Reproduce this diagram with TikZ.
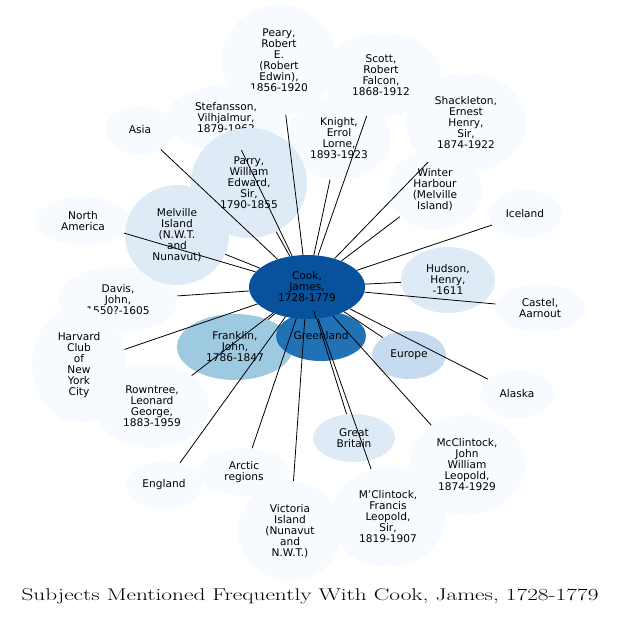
\documentclass[tikz,border=0pt]{standalone}
\usepackage{fontspec}
\setsansfont{DejaVu Sans}
\usetikzlibrary{shapes.geometric}
\definecolor{cA}{HTML}{08519C}
\definecolor{cB}{HTML}{2171B5}
\definecolor{cC}{HTML}{9ECAE1}
\definecolor{cD}{HTML}{C6DBEF}
\definecolor{cE}{HTML}{DEEBF7}
\definecolor{cF}{HTML}{F7FBFF}
\tikzset{
  bub/.style={ellipse,draw=none,inner sep=0pt},
  lbl/.style={align=center,inner sep=1pt,font=\sffamily\fontsize{10.6}{11}\selectfont}
}
\newcommand{\subj}[7]{% name, x, y, rx, ry, colour, text
  \node[bub,fill=#6,minimum width=#4*2pt,minimum height=#5*2pt] (#1) at (#2,#3) {};
  \node[lbl] (#1T) at (#1) {#7};}
\begin{document}
\begin{tikzpicture}[x=1pt,y=-1pt]
  \useasboundingbox (0,0) rectangle (621,618);
  \subj{peary}{279}{60}{57}{55}{cF}{Peary,\\Robert\\E.\\(Robert\\Edwin),\\1856-1920}
  \subj{scott}{381}{75}{60}{42}{cF}{Scott,\\Robert\\Falcon,\\1868-1912}
  \subj{shack}{466}{123}{60}{50}{cF}{Shackleton,\\Ernest\\Henry,\\Sir,\\1874-1922}
  \subj{knight}{339}{138}{52}{42}{cF}{Knight,\\Errol\\Lorne,\\1893-1923}
  \subj{stef}{226}{118}{60}{33}{cF}{Stefansson,\\Vilhjalmur,\\1879-1962}
  \subj{asia}{140}{130}{35}{24}{cF}{Asia}
  \subj{winter}{435}{190}{47}{40}{cF}{Winter\\Harbour\\(Melville\\Island)}
  \subj{iceland}{525}{214}{37}{24}{cF}{Iceland}
  \subj{namer}{83}{221}{47}{24}{cF}{North\\America}
  \subj{davis}{118}{300}{60}{33}{cF}{Davis,\\John,\\1550?-1605}
  \subj{castel}{540}{308}{45}{24}{cF}{Castel,\\Aarnout}
  \subj{harvard}{79}{365}{47}{58}{cF}{Harvard\\Club\\of\\New\\York\\City}
  \subj{rown}{152}{406}{57}{42}{cF}{Rowntree,\\Leonard\\George,\\1883-1959}
  \subj{alaska}{517}{394}{37}{24}{cF}{Alaska}
  \subj{mcl}{467}{465}{58}{50}{cF}{McClintock,\\John\\William\\Leopold,\\1874-1929}
  \subj{arctic}{244}{472}{45}{24}{cF}{Arctic\\regions}
  \subj{england}{164}{485}{38}{24}{cF}{England}
  \subj{victoria}{290}{531}{52}{50}{cF}{Victoria\\Island\\(Nunavut\\and\\N.W.T.)}
  \subj{mcf}{388}{517}{57}{50}{cF}{M'Clintock,\\Francis\\Leopold,\\Sir,\\1819-1907}
  \subj{parry}{249}{183}{58}{55}{cE}{Parry,\\William\\Edward,\\Sir,\\1790-1855}
  \subj{melville}{177}{235}{52}{50}{cE}{Melville\\Island\\(N.W.T.\\and\\Nunavut)}
  \subj{hudson}{448}{280}{47}{33}{cE}{Hudson,\\Henry,\\-1611}
  \subj{gbrit}{354}{438}{41}{24}{cE}{Great\\Britain}
  \subj{europe}{409}{355}{37}{24}{cD}{Europe}
  \subj{franklin}{235}{347}{58}{33}{cC}{Franklin,\\John,\\1786-1847}
  \subj{green}{321}{336}{45}{25}{cB}{Greenland}
  \subj{cook}{307}{287}{58}{32}{cA}{Cook,\\James,\\1728-1779}
  \foreach \t in {peary,scott,shack,knight,stef,asia,winter,iceland,namer,davis,castel,
    harvard,rown,alaska,mcl,arctic,england,victoria,mcf,parry,melville,hudson,gbrit,
    europe,franklin,green}
    \draw[line width=0.8pt] (cook) -- (\t);
  \node (title) at (310,596)
    {\scalebox{1.37}[1]{\fontsize{17}{20}\selectfont Subjects Mentioned Frequently With Cook, James, 1728-1779}};
\end{tikzpicture}
\end{document}
